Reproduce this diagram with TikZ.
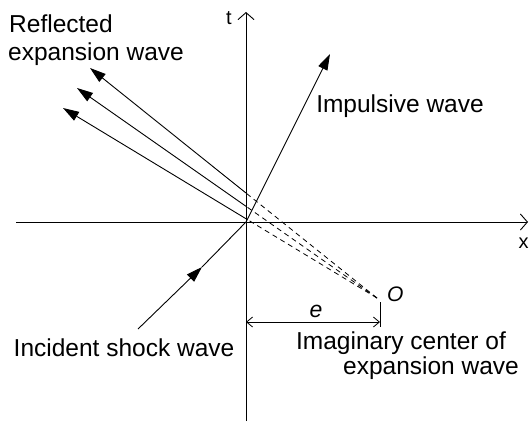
\documentclass[tikz,border=0pt]{standalone}
\usepackage{fontspec}
\setmainfont{Liberation Sans}
\usetikzlibrary{arrows.meta,calc}
\begin{document}
\begin{tikzpicture}[x=1pt,y=-1pt,
  lbl/.style={anchor=base, inner sep=0pt, font=\fontsize{24.5}{28}\selectfont},
  axlbl/.style={anchor=base, inner sep=0pt, font=\fontsize{20}{22}\selectfont},
  axis/.style={line width=0.9pt, -{Straight Barb[length=7pt,width=16pt,line width=0.9pt]}},
  ray/.style={line width=0.9pt, -{Triangle[length=16pt,width=10pt]}},
  plain/.style={line width=0.9pt},
  dsh/.style={line width=0.8pt, dash pattern=on 5pt off 4pt},
  dim/.style={line width=0.8pt, {Straight Barb[length=6pt,width=10pt]}-{Straight Barb[length=6pt,width=10pt]}}]
\useasboundingbox (0,0) rectangle (529,421);
% key points
\coordinate (o) at (246,222);
\coordinate (ttop) at (246,12);
\coordinate (tbot) at (246,421);
\coordinate (xl) at (16,222);
\coordinate (xr) at (528,222);
\coordinate (O) at (377,298);
\coordinate (imp) at (330,54);
\coordinate (r1) at (90,68);
\coordinate (r2) at (77,88);
\coordinate (r3) at (63,108);
\coordinate (m1) at ($(O)!0.4564!(r1)$);
\coordinate (m2) at ($(O)!0.4367!(r2)$);
\coordinate (m3) at ($(O)!0.4172!(r3)$);
\coordinate (inc) at (138,329);
\coordinate (itip) at (202,267);
\coordinate (eL) at (246,322);
\coordinate (eR) at (380,322);
\coordinate (tkT) at (380,302);
\coordinate (tkB) at (380,327);
% axes
\draw[axis] (tbot) -- (ttop);
\draw[axis] (xl) -- (xr);
% impulsive wave
\draw[ray] (o) -- (imp);
% reflected expansion waves
\draw[ray] (m1) -- (r1);
\draw[ray] (m2) -- (r2);
\draw[ray] (m3) -- (r3);
\draw[dsh] (O) -- (m1);
\draw[dsh] (O) -- (m2);
\draw[dsh] (O) -- (m3);
% incident shock wave
\draw[ray] (inc) -- (itip);
\draw[plain] (itip) -- (o);
% dimension e
\draw[dim] (eL) -- (eR);
\draw[line width=0.8pt] (tkT) -- (tkB);
% labels
\node[axlbl] (tl) at (229,24) {t};
\node[axlbl] (xlb) at (523.5,248) {x};
\node[lbl] (refl1) at (61,32) {Reflected};
\node[lbl] (refl2) at (96,60) {expansion wave};
\node[lbl] (impl) at (400,112) {Impulsive wave};
\node[lbl] (incl) at (124,356) {Incident shock wave};
\node[lbl] (img1) at (401,349) {Imaginary center of};
\node[lbl] (img2) at (431,374) {expansion wave};
\node[anchor=base west, inner sep=0pt, font=\fontsize{21}{24}\selectfont\itshape] (Ol) at (387,301) {O};
\node[anchor=base, inner sep=0pt, font=\fontsize{23}{26}\selectfont\itshape] (el) at (316,317) {e};
\end{tikzpicture}
\end{document}
